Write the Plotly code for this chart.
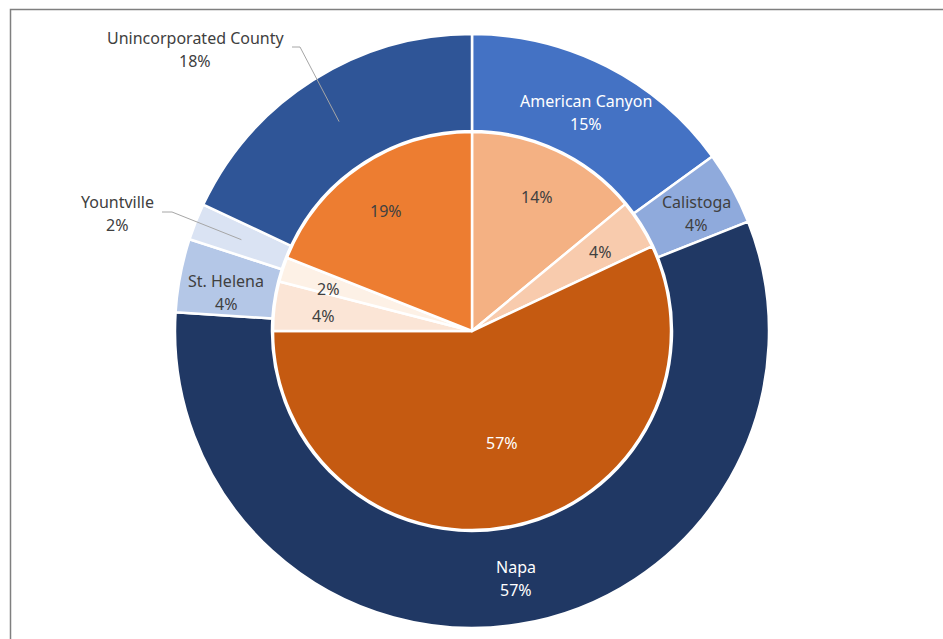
import math
import plotly.graph_objects as go

# ---------------- data ----------------
cities = ["American Canyon", "Calistoga", "Napa", "St. Helena", "Yountville", "Unincorporated County"]
outer_values = [15, 4, 57, 4, 2, 18]   # outer ring (%)
inner_values = [14, 4, 57, 4, 2, 19]   # inner pie (%)

outer_colors = ["#4472C4", "#8FAADC", "#203864", "#B4C7E7", "#DAE3F3", "#2F5597"]
inner_colors = ["#F4B183", "#F8CBAD", "#C55A11", "#FBE5D6", "#FDF1E6", "#ED7D31"]
outer_text_colors = ["white", "#404040", "white", "#404040", "#404040", "#404040"]
inner_text_colors = ["#404040", "#404040", "white", "#404040", "#404040", "#404040"]

# ---------------- geometry (pixels) ----------------
W, H = 943, 639
CX, CY = 472, 331
R_OUT, R_IN = 297, 199
FONT = "Noto Sans"
FS = 16
LINE_GAP = 23  # distance between the two lines of a two-line label

outside_labels = {  # label centre, leader-line start
    "Unincorporated County": dict(pos=(195, 49), start=(292, 47), knee=(300, 47)),
    "Yountville": dict(pos=(117, 213), start=(162, 212), knee=(172, 212)),
}
outer_nudge = {"Calistoga": (7, 2), "Napa": (5, 3), "St. Helena": (-2, 8), "American Canyon": (1, 2)}
inner_nudge = {2: (-3, -34), 4: (-1, 4), 3: (0, 4), 5: (-2, 4), 0: (1, 2), 1: (1, 1)}


def dom(r):
    return dict(x=[(CX - r) / W, (CX + r) / W], y=[1 - (CY + r) / H, 1 - (CY - r) / H])


def mid_angles(vals):
    tot = sum(vals)
    out, acc = [], 0
    for v in vals:
        out.append((acc + v / 2) / tot * 360)
        acc += v
    return out


def polar(theta, r):
    t = math.radians(theta)
    return CX + r * math.sin(t), CY - r * math.cos(t)


def label(x, y, text, color):
    return dict(x=x, y=y, xref="x", yref="y", text=text, showarrow=False,
                font=dict(family=FONT, size=FS, color=color),
                xanchor="center", yanchor="middle")


fig = go.Figure()
fig.add_trace(go.Pie(
    labels=cities, values=outer_values, sort=False, direction="clockwise", rotation=0,
    hole=(R_IN + 1) / R_OUT, domain=dom(R_OUT), textinfo="none", hoverinfo="label+percent",
    marker=dict(colors=outer_colors, line=dict(color="white", width=2.5)), showlegend=False,
))
fig.add_trace(go.Pie(
    labels=cities, values=inner_values, sort=False, direction="clockwise", rotation=0,
    domain=dom(R_IN), textinfo="none", hoverinfo="label+percent",
    marker=dict(colors=inner_colors, line=dict(color="white", width=2.5)), showlegend=False,
))

# hidden pixel-coordinate axes spanning the whole figure
fig.update_xaxes(range=[0, W], visible=False, fixedrange=True)
fig.update_yaxes(range=[H, 0], visible=False, fixedrange=True)

annotations = []
shapes = []
tot_o = sum(outer_values)
for i, (name, v, th) in enumerate(zip(cities, outer_values, mid_angles(outer_values))):
    pct = f"{round(v / tot_o * 100)}%"
    if name in outside_labels:
        cfg = outside_labels[name]
        ex, ey = polar(th, (R_OUT + R_IN) / 2)
        (sx, sy), (kx, ky) = cfg["start"], cfg["knee"]
        shapes.append(dict(type="path", xref="x", yref="y",
                           path=f"M {sx} {sy} L {kx} {ky} L {ex:.1f} {ey:.1f}",
                           line=dict(color="#A6A6A6", width=1)))
        x, y = cfg["pos"]
    else:
        x, y = polar(th, (R_OUT + R_IN) / 2)
        dx, dy = outer_nudge.get(name, (0, 0))
        x, y = x + dx, y + dy
    annotations.append(label(x, y - LINE_GAP / 2, name, outer_text_colors[i]))
    annotations.append(label(x, y + LINE_GAP / 2, pct, outer_text_colors[i]))

tot_i = sum(inner_values)
for i, (v, th) in enumerate(zip(inner_values, mid_angles(inner_values))):
    x, y = polar(th, 150)
    dx, dy = inner_nudge.get(i, (0, 0))
    annotations.append(label(x + dx, y + dy, f"{round(v / tot_i * 100)}%", inner_text_colors[i]))

# chart frame
shapes.append(dict(type="rect", xref="x", yref="y", x0=10.5, y0=9.5, x1=W + 20, y1=H + 20,
                   line=dict(color="#7F7F7F", width=1.5), layer="below"))

fig.update_layout(
    width=W, height=H, margin=dict(l=0, r=0, t=0, b=0),
    paper_bgcolor="white", plot_bgcolor="rgba(0,0,0,0)",
    annotations=annotations, shapes=shapes, showlegend=False,
)
fig.write_html("out.html", config={"displayModeBar": False},
               post_script="document.body.style.margin='0px';")
